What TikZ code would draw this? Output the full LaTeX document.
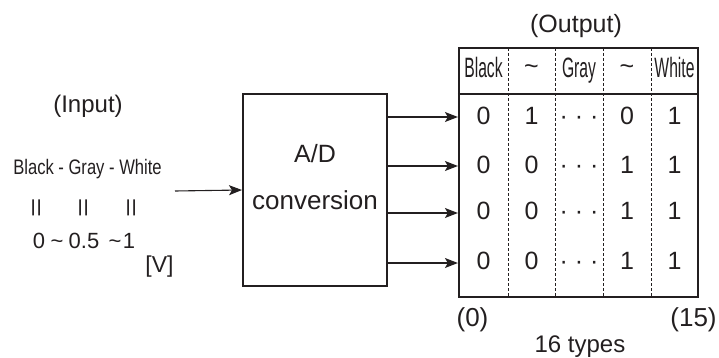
\documentclass[tikz,border=0pt]{standalone}
\usepackage{fontspec}
\setmainfont{Liberation Sans}
\usetikzlibrary{arrows.meta}
\definecolor{ink}{HTML}{231F20}
\begin{document}
\begin{tikzpicture}[x=1pt,y=-1pt,
  every node/.style={text=ink},
  txt/.style={inner sep=0pt, anchor=base, font=\fontsize{25}{28}\selectfont},
  smalltxt/.style={inner sep=0pt, anchor=base, font=\fontsize{21}{24}\selectfont},
  valtxt/.style={inner sep=0pt, anchor=base, font=\fontsize{22}{24}\selectfont},
  boxshape/.style={draw=ink, line width=2pt, minimum width=#1, inner sep=0pt},
  arr/.style={draw=ink, line width=1.1pt, -{Stealth[length=13pt,width=10pt,inset=3pt]}},
  divider/.style={draw=ink, line width=0.9pt, dash pattern=on 3pt off 2pt},
  cond/.style={inner sep=0pt, anchor=base, font=\fontsize{28}{30}\selectfont}]
\useasboundingbox (0,0) rectangle (719,358);

% A/D box
\node[boxshape=144pt, minimum height=192pt] (ad) at (315,190) {};
\node[txt, font=\fontsize{25}{28}\selectfont] (adA) at (315,162) {A/D};
\node[txt, font=\fontsize{26}{28}\selectfont] (adB) at (315,209) {conversion};

% Table
\node[boxshape=239pt, minimum height=249pt, line width=2.2pt] (tbl) at (578.5,172.5) {};
\draw[draw=ink, line width=1.3pt] (tbl.west |- 0,94) -- (tbl.east |- 0,94);
\foreach \xx in {508,555,603,651}
  \draw[divider] (\xx,48) -- (\xx,297);

% header
\node[cond] (hB) at (483.5,78) {\scalebox{0.56}[1]{Black}};
\node[txt] (hT1) at (531.5,78) {\raisebox{3pt}{\char"007E}};
\node[cond] (hG) at (579,78) {\scalebox{0.56}[1]{Gray}};
\node[txt] (hT2) at (627,78) {\raisebox{3pt}{\char"007E}};
\node[cond] (hW) at (674.5,78) {\scalebox{0.56}[1]{White}};

% rows
\foreach \yy/\b/\d [count=\i] in {124.5/1/0, 173.5/0/1, 219.5/0/1, 269.5/0/1}{
  \node[txt] (r\i a) at (483.5,\yy) {0};
  \node[txt] (r\i b) at (531.5,\yy) {\b};
  \node[txt] (r\i c) at (579,\yy) {· · ·};
  \node[txt] (r\i d) at (627,\yy) {\d};
  \node[txt] (r\i e) at (674.5,\yy) {1};
}

% output arrows
\foreach \yy in {117,166,213,263}
  \draw[arr] (ad.east |- 0,\yy) -- (tbl.west |- 0,\yy);

% labels
\node[txt] (outlbl) at (576,33) {(Output)};
\node[txt, font=\fontsize{26}{28}\selectfont] (l0) at (472.5,326) {(0)};
\node[txt, font=\fontsize{26}{28}\selectfont] (l15) at (693.5,326) {(15)};
\node[txt, font=\fontsize{24}{28}\selectfont] (types) at (580,352) {16 types};

% input side
\node[txt, font=\fontsize{24}{28}\selectfont] (inlbl) at (88,113) {(Input)};
\node[smalltxt] (bgw) at (87.5,175) {\scalebox{0.79}[1]{Black - Gray - White}};
\foreach \xx [count=\i] in {39,86,134}
  \node[inner sep=0pt, font=\fontsize{30}{32}\selectfont] (eq\i) at (\xx,207.5) {\rotatebox{90}{\scalebox{1.1}[0.8]{=}}};
\node[valtxt] (v0) at (39,248) {0};
\node[valtxt] (t1) at (57,248) {\char"007E};
\node[valtxt] (v05) at (84,248) {0.5};
\node[valtxt] (t2) at (115,248) {\char"007E};
\node[valtxt] (v1) at (129,248) {1};
\node[inner sep=0pt, anchor=base, font=\fontsize{23}{24}\selectfont] (unit) at (159.5,272) {[V]};
\coordinate (inp) at (175,191);
\draw[arr] (inp) -- (ad.west);
\end{tikzpicture}
\end{document}
